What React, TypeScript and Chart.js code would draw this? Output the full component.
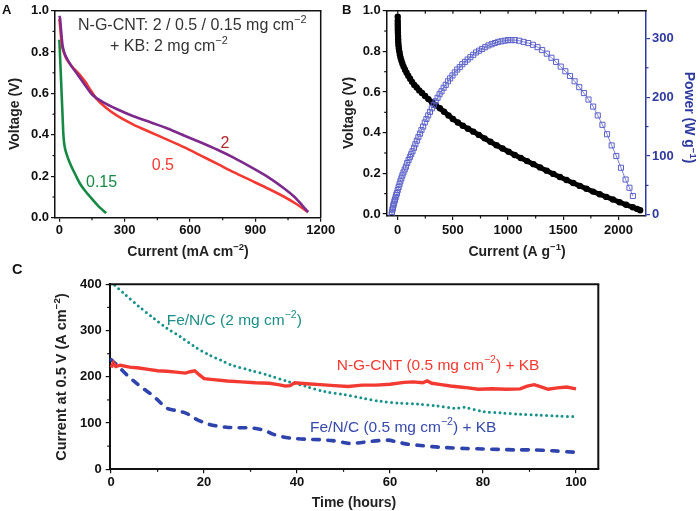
import React, { useEffect, useRef } from 'react';
import { Chart, registerables } from 'chart.js';

Chart.register(...registerables);

const FAMILY = '"Liberation Sans", Arial, Helvetica, sans-serif';
const font = (size: number, bold = false) => `${bold ? 'bold ' : ''}${size}px ${FAMILY}`;

// ---------------- Panel A data ----------------
const aTicksX = [0, 300, 600, 900, 1200];
const aMinorX = [150, 450, 750, 1050];
const aTicksY = [0, 0.2, 0.4, 0.6, 0.8, 1.0];
const aMinorY = [0.1, 0.3, 0.5, 0.7, 0.9];

const aCurrent2 = [0, 3, 6, 10, 15, 22, 30, 42, 60, 85, 115, 150, 200, 263, 340, 418, 500, 572, 650, 726, 800, 880, 960, 1034, 1080, 1115, 1142];
const aVoltage2 = [0.975, 0.965, 0.93, 0.88, 0.83, 0.80, 0.778, 0.755, 0.725, 0.69, 0.645, 0.595, 0.558, 0.525, 0.49, 0.461, 0.43, 0.397, 0.363, 0.328, 0.29, 0.244, 0.195, 0.14, 0.10, 0.06, 0.027];

const aCurrent05 = [0, 3, 7, 12, 20, 34, 60, 90, 120, 141, 170, 210, 265, 340, 418, 500, 572, 650, 726, 800, 880, 960, 1034, 1090, 1142];
const aVoltage05 = [0.96, 0.93, 0.88, 0.83, 0.80, 0.765, 0.728, 0.695, 0.655, 0.62, 0.575, 0.535, 0.493, 0.45, 0.413, 0.375, 0.341, 0.30, 0.26, 0.22, 0.18, 0.14, 0.10, 0.065, 0.027];

const aCurrent015 = [0, 2, 4, 6, 8, 10, 12, 14, 16, 18, 22, 27, 34, 45, 57, 75, 95, 118, 142, 180, 215];
const aVoltage015 = [0.86, 0.81, 0.76, 0.71, 0.66, 0.61, 0.56, 0.51, 0.46, 0.41, 0.36, 0.33, 0.305, 0.273, 0.244, 0.205, 0.164, 0.13, 0.10, 0.055, 0.022];

// ---------------- Panel B data ----------------
const bTicksX = [0, 500, 1000, 1500, 2000];
const bMinorX = [250, 750, 1250, 1750];
const bTopTicks = [0, 250, 500, 750, 1000, 1250, 1500, 1750, 2000];
const bTicksY = [0, 0.2, 0.4, 0.6, 0.8, 1.0];
const bMinorY = [0.1, 0.3, 0.5, 0.7, 0.9];
const bTicksP = [0, 100, 200, 300];
const bMinorP = [50, 150, 250];

const bCurrent = [0, 0, 0, 1, 1, 2, 3, 4, 5, 7, 10, 14, 19, 25, 33, 42, 53, 66, 80, 95, 112, 130, 150, 172, 195, 220, 248, 278, 310, 345, 382, 420, 460, 500, 545, 590, 637, 685, 735, 787, 840, 895, 950, 1005, 1060, 1115, 1172, 1230, 1290, 1350, 1410, 1470, 1530, 1590, 1650, 1710, 1770, 1830, 1890, 1950, 2010, 2070, 2130, 2170, 2197];
const bVoltage = [0.97, 0.95, 0.935, 0.92, 0.905, 0.89, 0.875, 0.86, 0.845, 0.83, 0.815, 0.80, 0.785, 0.77, 0.755, 0.74, 0.725, 0.71, 0.695, 0.68, 0.665, 0.65, 0.635, 0.622, 0.608, 0.595, 0.58, 0.565, 0.55, 0.535, 0.52, 0.503, 0.485, 0.467, 0.45, 0.434, 0.419, 0.405, 0.389, 0.372, 0.355, 0.338, 0.322, 0.306, 0.29, 0.275, 0.26, 0.245, 0.229, 0.213, 0.197, 0.182, 0.167, 0.152, 0.138, 0.124, 0.11, 0.097, 0.084, 0.071, 0.058, 0.045, 0.033, 0.025, 0.018];

const bPowerCurrent = [-55, -52, -48, -44, -40, -35, -30, -25, -19, -13, -7, 0, 8, 16, 24, 33, 42, 52, 63, 74, 86, 98, 110, 122, 134, 147, 160, 173, 187, 201, 215, 230, 245, 260, 276, 292, 309, 326, 343, 361, 379, 397, 416, 435, 455, 475, 496, 517, 539, 562, 585, 609, 633, 658, 684, 710, 737, 765, 793, 822, 851, 880, 910, 940, 970, 1000, 1030, 1060, 1100, 1141, 1183, 1225, 1267, 1309, 1351, 1393, 1435, 1477, 1519, 1561, 1603, 1645, 1687, 1729, 1771, 1813, 1855, 1897, 1939, 1981, 2023, 2065, 2100, 2131];
const bPower = [1, 5, 9, 12, 16, 19, 23, 26, 30, 34, 37, 42, 47, 52, 57, 62, 67, 72, 77, 82, 88, 93, 98, 103, 108, 114, 120, 126, 132, 138, 144, 150, 157, 163, 169, 175, 181, 187, 193, 199, 205, 210, 216, 221, 227, 232, 237, 242, 247, 251, 256, 260, 264, 268, 272, 276, 279, 282, 285, 288, 290, 292, 294, 295, 296, 297, 297, 297, 296, 294, 292, 289, 285, 280, 274, 267, 260, 252, 244, 236, 227, 217, 207, 196, 184, 169, 153, 137, 118, 100, 80, 60, 46, 32];

// ---------------- Panel C data ----------------
const cTicksX = [0, 20, 40, 60, 80, 100];
const cMinorX = [10, 30, 50, 70, 90];
const cTicksY = [0, 100, 200, 300, 400];
const cMinorY = [50, 150, 250, 350];

const cNgTime = [0, 0.5, 1, 2, 4, 6, 8, 10, 12, 14, 16, 17, 18, 19, 20, 22, 25, 28, 31, 34, 36, 37.5, 38.5, 39.5, 42, 45, 48, 51, 54, 57, 60, 63, 65, 67, 68, 69, 71, 73, 76, 79, 82, 85, 88, 89.5, 91, 92.5, 94, 96, 98, 100];
const cNgCurrent = [220, 230, 222, 225, 221, 219, 216, 213, 212, 210, 208, 211, 213, 204, 196, 194, 191, 189, 187, 186, 183, 180, 181, 187, 185, 183, 181, 179, 182, 182, 184, 188, 189, 187, 191, 186, 183, 180, 177, 173, 174, 173, 174, 180, 183, 178, 173, 176, 178, 174];

const cFe2Time = [0.8, 3, 6, 9, 12, 15, 18, 21, 24, 26, 30, 34, 38, 42, 46, 50, 54, 58, 62, 66, 70, 74, 76, 80, 84, 88, 92, 96, 100];
const cFe2Current = [398, 378, 352, 328, 305, 286, 265, 248, 234, 225, 214, 203, 190, 179, 168, 162, 154, 147, 143, 141, 137, 132, 134, 125, 122, 119, 117, 115, 114];

const cFe05Time = [0, 1, 2, 3.4, 5, 7, 8.4, 10, 12, 14, 16.2, 18, 20.5, 22.5, 24.8, 27, 30.5, 33, 34.8, 37, 39.1, 42, 45, 47.6, 50, 51.2, 53, 55.5, 57.5, 59.6, 61.5, 63.4, 66, 69.1, 72, 76.2, 80, 83.3, 87, 90.5, 95, 99.6];
const cFe05Current = [237, 228, 218, 204, 190, 174, 164, 150, 132, 127, 121, 110, 99, 94, 91, 90, 89, 84, 76, 70, 67, 65, 64, 62, 58, 56, 57, 60, 62, 63, 59, 55, 52, 49, 47, 45, 44, 43, 42, 42, 40, 37];

// ---------------- helpers ----------------
const pts = (xs: number[], ys: number[]) => xs.map((x, i) => ({ x, y: ys[i] }));

type Seg = { t: string; sup?: boolean };
type TextItem = { segs: Seg[]; x: number; y: number; size: number; color: string; bold?: boolean; align?: 'left' | 'center'; rot?: number };
type Minor = { axis: string; values: number[]; side: 'bottom' | 'top' | 'left' | 'right'; len: number; color: string };

function drawRich(ctx: CanvasRenderingContext2D, it: TextItem) {
  const supSize = it.size * 0.68;
  const widths = it.segs.map((s) => {
    ctx.font = font(s.sup ? supSize : it.size, !!it.bold);
    return ctx.measureText(s.t).width;
  });
  const total = widths.reduce((a, b) => a + b, 0);
  ctx.save();
  ctx.translate(it.x, it.y);
  if (it.rot) ctx.rotate(it.rot);
  ctx.fillStyle = it.color;
  ctx.textAlign = 'left';
  ctx.textBaseline = 'alphabetic';
  let cx = it.align === 'center' ? -total / 2 : 0;
  it.segs.forEach((s, i) => {
    ctx.font = font(s.sup ? supSize : it.size, !!it.bold);
    ctx.fillText(s.t, cx, s.sup ? -it.size * 0.42 : 0);
    cx += widths[i];
  });
  ctx.restore();
}

function overlay(offX: number, offY: number, o: { frameTop?: string; frameRight?: string; frameWidth: number; minors: Minor[]; texts: TextItem[] }) {
  return {
    id: 'overlay',
    afterDraw(chart: any) {
      const ctx: CanvasRenderingContext2D = chart.ctx;
      const ca = chart.chartArea;
      ctx.save();
      ctx.lineWidth = o.frameWidth;
      if (o.frameTop) {
        ctx.strokeStyle = o.frameTop;
        ctx.beginPath();
        ctx.moveTo(ca.left - o.frameWidth / 2, ca.top);
        ctx.lineTo(ca.right + o.frameWidth / 2, ca.top);
        ctx.stroke();
      }
      if (o.frameRight) {
        ctx.strokeStyle = o.frameRight;
        ctx.beginPath();
        ctx.moveTo(ca.right, ca.top);
        ctx.lineTo(ca.right, ca.bottom);
        ctx.stroke();
      }
      for (const m of o.minors) {
        const sc = chart.scales[m.axis];
        ctx.strokeStyle = m.color;
        ctx.lineWidth = 1.2;
        for (const v of m.values) {
          const p = sc.getPixelForValue(v);
          ctx.beginPath();
          if (m.side === 'bottom') { ctx.moveTo(p, ca.bottom); ctx.lineTo(p, ca.bottom + m.len); }
          else if (m.side === 'top') { ctx.moveTo(p, ca.top); ctx.lineTo(p, ca.top + m.len); }
          else if (m.side === 'left') { ctx.moveTo(ca.left, p); ctx.lineTo(ca.left - m.len, p); }
          else { ctx.moveTo(ca.right, p); ctx.lineTo(ca.right + m.len, p); }
          ctx.stroke();
        }
      }
      ctx.translate(-offX, -offY);
      for (const t of o.texts) drawRich(ctx, t);
      ctx.restore();
    },
  };
}

function axis(opts: { min: number; max: number; ticks: number[]; fmt: (v: number) => string; size: number; horizontal: boolean; pad: number; color?: string; position?: string; borderWidth?: number }) {
  const color = opts.color || '#111';
  return {
    type: 'linear',
    position: opts.position || (opts.horizontal ? 'bottom' : 'left'),
    min: opts.min,
    max: opts.max,
    afterBuildTicks: (s: any) => { s.ticks = opts.ticks.map((v) => ({ value: v })); },
    afterFit: (s: any) => { if (opts.horizontal) s.height = opts.size; else s.width = opts.size; },
    ticks: {
      autoSkip: false,
      maxRotation: 0,
      minRotation: 0,
      padding: opts.pad,
      color,
      font: { family: FAMILY, size: 13, weight: 'bold' },
      callback: (v: any) => opts.fmt(Number(v)),
    },
    grid: { display: true, drawOnChartArea: false, drawTicks: true, tickLength: 4, color, lineWidth: 1.2 },
    border: { display: true, color, width: opts.borderWidth || 1.5 },
    title: { display: false },
  };
}

const baseOptions = (padding: any) => ({
  responsive: false,
  maintainAspectRatio: false,
  animation: false,
  devicePixelRatio: 1,
  events: [],
  layout: { padding },
  plugins: { legend: { display: false }, tooltip: { enabled: false }, title: { display: false } },
});

const PURPLE = '#7d2a8c';
const RED = '#f23a32';
const GREEN = '#168a45';
const TEAL = '#17928a';
const BLUE = '#2f43ad';
const SQUARE = '#5a60c8';
const AXBLUE = '#2f3a9e';
const HALF = Math.PI / 2;

// ---------------- configs ----------------
function configA(offX: number, offY: number): any {
  return {
    type: 'scatter',
    data: {
      datasets: [
        { data: pts(aCurrent2, aVoltage2), showLine: true, borderColor: PURPLE, borderWidth: 2.6, pointRadius: 0, tension: 0.2 },
        { data: pts(aCurrent05, aVoltage05), showLine: true, borderColor: RED, borderWidth: 2.6, pointRadius: 0, tension: 0.2 },
        { data: pts(aCurrent015, aVoltage015), showLine: true, borderColor: GREEN, borderWidth: 2.6, pointRadius: 0, tension: 0.2 },
      ],
    },
    options: {
      ...baseOptions({ left: 0, top: 10.7, right: 24.3, bottom: 0 }),
      scales: {
        x: axis({ min: -20, max: 1200, ticks: aTicksX, fmt: (v) => String(v), size: 44.3, horizontal: true, pad: 1 }),
        y: axis({ min: 0, max: 1.0, ticks: aTicksY, fmt: (v) => v.toFixed(1), size: 55, horizontal: false, pad: 2 }),
      },
    },
    plugins: [
      overlay(offX, offY, {
        frameTop: '#111', frameRight: '#111', frameWidth: 1.5,
        minors: [
          { axis: 'x', values: aMinorX, side: 'bottom', len: 2.5, color: '#111' },
          { axis: 'y', values: aMinorY, side: 'left', len: 2.5, color: '#111' },
        ],
        texts: [
          { segs: [{ t: 'A' }], x: 2, y: 13.5, size: 13, color: '#111', bold: true },
          { segs: [{ t: 'N-G-CNT: 2 / 0.5 / 0.15 mg cm' }, { t: '−2', sup: true }], x: 78, y: 30, size: 16, color: '#333' },
          { segs: [{ t: '+ KB: 2 mg cm' }, { t: '−2', sup: true }], x: 110, y: 50.7, size: 16, color: '#333' },
          { segs: [{ t: '2' }], x: 225, y: 148.3, size: 16, color: '#b0282e', align: 'center' },
          { segs: [{ t: '0.5' }], x: 151.7, y: 170, size: 16, color: RED },
          { segs: [{ t: '0.15' }], x: 86, y: 187.3, size: 16, color: GREEN },
          { segs: [{ t: 'Voltage (V)' }], x: 18.5, y: 114, size: 14, color: '#222', bold: true, align: 'center', rot: -HALF },
          { segs: [{ t: 'Current (mA cm' }, { t: '−2', sup: true }, { t: ')' }], x: 188, y: 255.5, size: 14, color: '#222', bold: true, align: 'center' },
        ],
      }),
    ],
  };
}

function configB(offX: number, offY: number): any {
  return {
    type: 'scatter',
    data: {
      datasets: [
        {
          data: pts(bPowerCurrent, bPower), yAxisID: 'y1', order: 0, showLine: true,
          borderColor: SQUARE, borderWidth: 0.8, pointStyle: 'rect', pointRadius: 3.6,
          pointBorderColor: SQUARE, pointBackgroundColor: 'rgba(0,0,0,0)', pointBorderWidth: 1, tension: 0,
        },
        {
          data: pts(bCurrent, bVoltage), yAxisID: 'y', order: 1, showLine: true,
          borderColor: '#000', borderWidth: 5, pointRadius: 3.2, pointBackgroundColor: '#000', pointBorderColor: '#000', pointBorderWidth: 0, tension: 0,
        },
      ],
    },
    options: {
      ...baseOptions({ left: 0, top: 10.7, right: 0, bottom: 0 }),
      scales: {
        x: axis({ min: -100, max: 2250, ticks: bTicksX, fmt: (v) => String(v), size: 46, horizontal: true, pad: 3 }),
        y: axis({ min: -0.01, max: 1.0, ticks: bTicksY, fmt: (v) => v.toFixed(1), size: 51.7, horizontal: false, pad: 2 }),
        y1: axis({ min: -2, max: 347, ticks: bTicksP, fmt: (v) => String(v), size: 54, horizontal: false, pad: 2, color: AXBLUE, position: 'right' }),
      },
    },
    plugins: [
      overlay(offX, offY, {
        frameTop: '#111', frameWidth: 1.5,
        minors: [
          { axis: 'x', values: bMinorX, side: 'bottom', len: 2.5, color: '#111' },
          { axis: 'x', values: bTopTicks, side: 'top', len: 3, color: '#111' },
          { axis: 'y', values: bMinorY, side: 'left', len: 2.5, color: '#111' },
          { axis: 'y1', values: bMinorP, side: 'right', len: 2.5, color: AXBLUE },
        ],
        texts: [
          { segs: [{ t: 'B' }], x: 342, y: 13.5, size: 13, color: '#111', bold: true },
          { segs: [{ t: 'Voltage (V)' }], x: 352.5, y: 113, size: 14, color: '#222', bold: true, align: 'center', rot: -HALF },
          { segs: [{ t: 'Current (A g' }, { t: '−1', sup: true }, { t: ')' }], x: 517, y: 255.5, size: 14, color: '#222', bold: true, align: 'center' },
          { segs: [{ t: 'Power (W g' }, { t: '−1', sup: true }, { t: ')' }], x: 684.5, y: 117.5, size: 14, color: AXBLUE, bold: true, align: 'center', rot: HALF },
        ],
      }),
    ],
  };
}

function configC(offX: number, offY: number): any {
  return {
    type: 'scatter',
    data: {
      datasets: [
        { data: pts(cNgTime, cNgCurrent), showLine: true, borderColor: RED, borderWidth: 3.4, pointRadius: 0, tension: 0 },
        { data: pts(cFe2Time, cFe2Current), showLine: true, borderColor: TEAL, borderWidth: 3, borderDash: [0, 5.2], borderCapStyle: 'round', pointRadius: 0, tension: 0.3 },
        { data: pts(cFe05Time, cFe05Current), showLine: true, borderColor: BLUE, borderWidth: 3.6, borderDash: [6.5, 8.5], borderCapStyle: 'round', pointRadius: 0, tension: 0.3 },
      ],
    },
    options: {
      ...baseOptions({ left: 0, top: 24.3, right: 101.7, bottom: 0 }),
      scales: {
        x: axis({ min: -0.3, max: 104.8, ticks: cTicksX, fmt: (v) => String(v), size: 41.7, horizontal: true, pad: 1, borderWidth: 2 }),
        y: axis({ min: 0, max: 400, ticks: cTicksY, fmt: (v) => String(v), size: 109.7, horizontal: false, pad: 4, borderWidth: 2 }),
      },
    },
    plugins: [
      overlay(offX, offY, {
        frameTop: '#111', frameRight: '#111', frameWidth: 2,
        minors: [
          { axis: 'x', values: cMinorX, side: 'bottom', len: 2.5, color: '#111' },
          { axis: 'y', values: cMinorY, side: 'left', len: 2.5, color: '#111' },
        ],
        texts: [
          { segs: [{ t: 'C' }], x: 12, y: 273.5, size: 14.5, color: '#111', bold: true },
          { segs: [{ t: 'Fe/N/C (2 mg cm' }, { t: '−2', sup: true }, { t: ')' }], x: 166.7, y: 324.5, size: 15.5, color: '#1b8f88' },
          { segs: [{ t: 'N-G-CNT (0.5 mg cm' }, { t: '−2', sup: true }, { t: ') + KB' }], x: 336.7, y: 369.5, size: 15.5, color: RED },
          { segs: [{ t: 'Fe/N/C (0.5 mg cm' }, { t: '−2', sup: true }, { t: ') + KB' }], x: 310, y: 431.7, size: 15.5, color: '#3849ab' },
          { segs: [{ t: 'Current at 0.5 V (A cm' }, { t: '−2', sup: true }, { t: ')' }], x: 66, y: 377, size: 14.5, color: '#222', bold: true, align: 'center', rot: -HALF },
          { segs: [{ t: 'Time (hours)' }], x: 354, y: 506.5, size: 14, color: '#222', bold: true, align: 'center' },
        ],
      }),
    ],
  };
}

function Panel({ left, top, width, height, make }: { left: number; top: number; width: number; height: number; make: (x: number, y: number) => any }) {
  const ref = useRef<HTMLCanvasElement>(null);
  useEffect(() => {
    if (!ref.current) return;
    const chart = new Chart(ref.current, make(left, top));
    return () => chart.destroy();
  }, []);
  return <canvas ref={ref} width={width} height={height} style={{ position: 'absolute', left, top, width, height }} />;
}

export default function App() {
  return (
    <div style={{ position: 'absolute', left: 0, top: 0, width: 700, height: 511, background: '#fff', overflow: 'hidden' }}>
      <Panel left={0} top={0} width={345} height={262} make={configA} />
      <Panel left={335} top={0} width={365} height={262} make={configB} />
      <Panel left={0} top={260} width={700} height={251} make={configC} />
    </div>
  );
}
